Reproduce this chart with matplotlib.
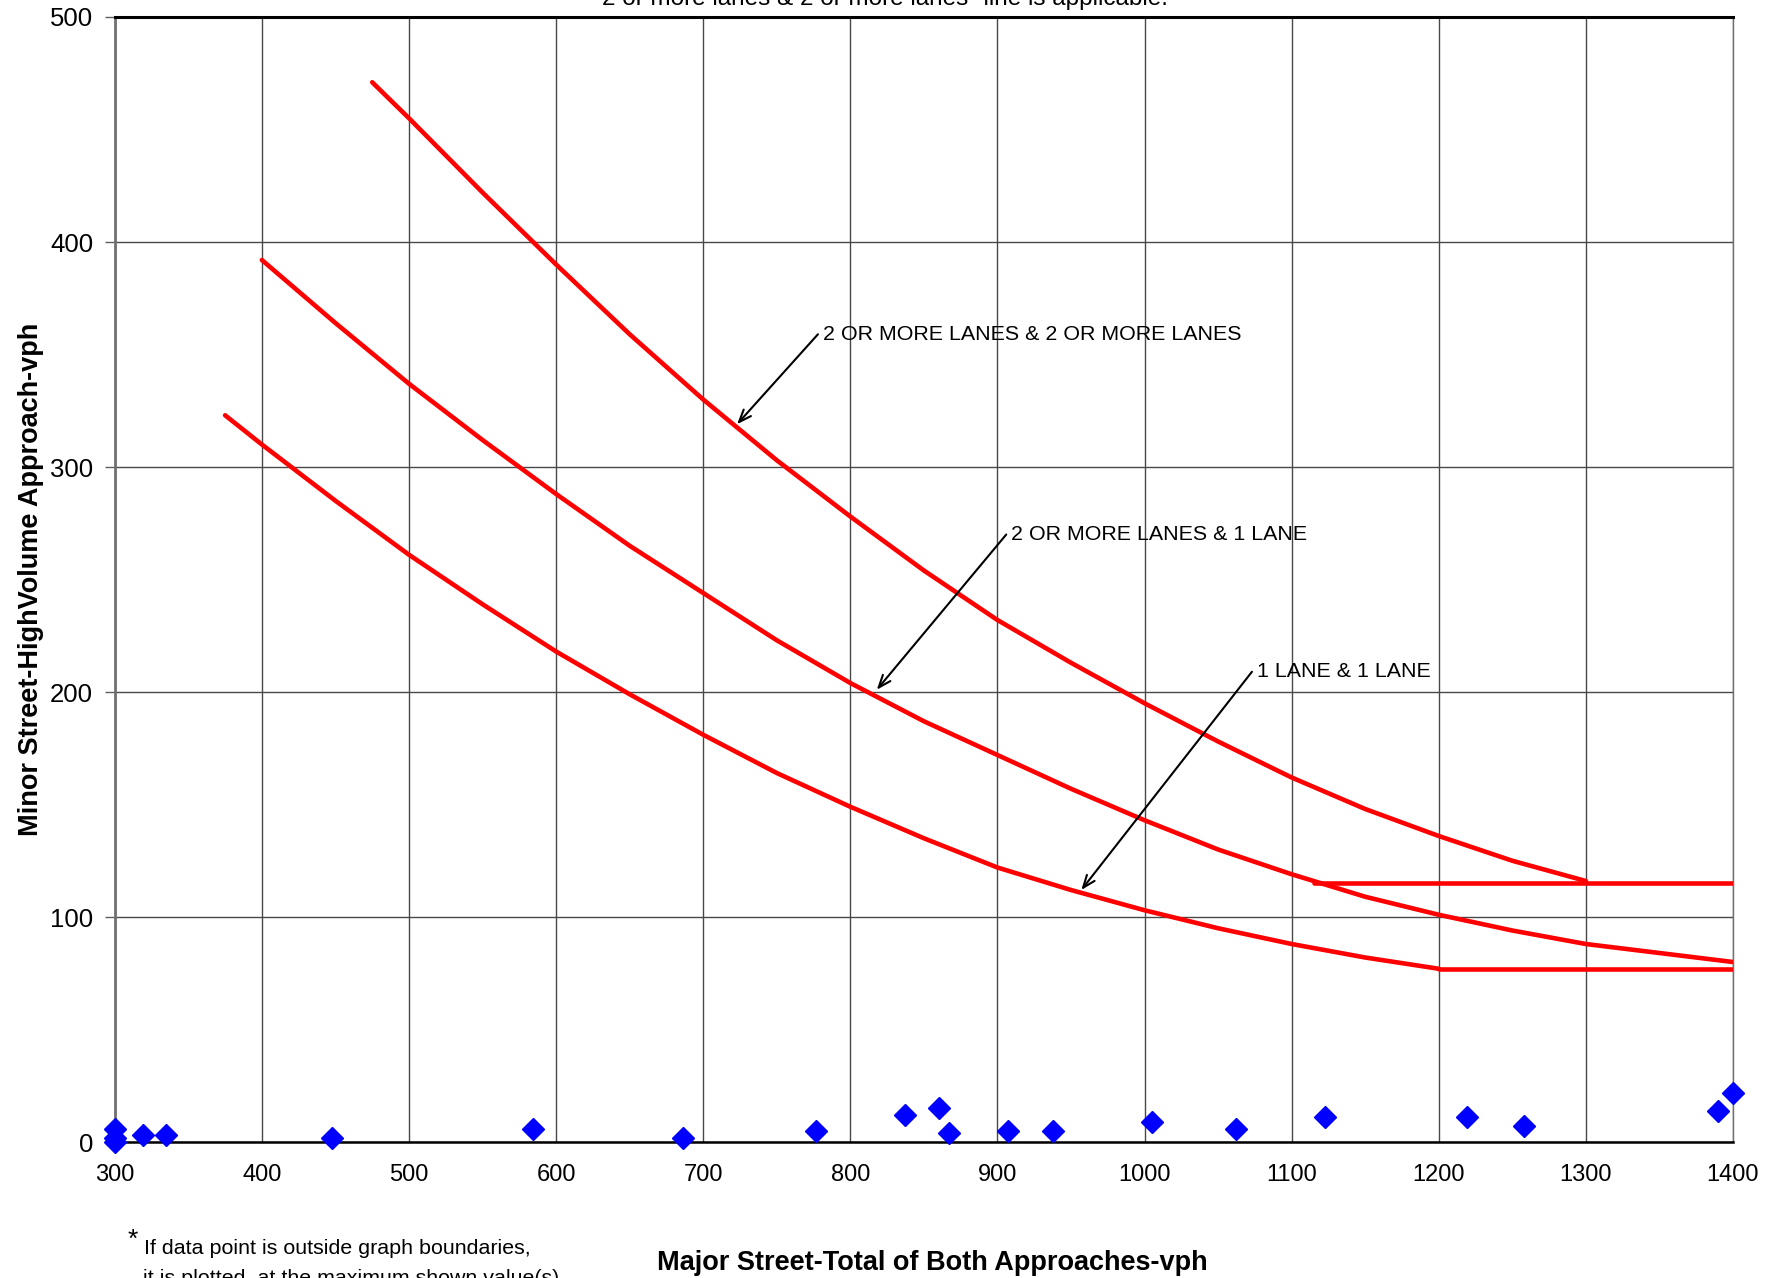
import matplotlib
matplotlib.use("Agg")
import matplotlib.pyplot as plt

plt.rcParams["font.family"] = ["Liberation Sans", "DejaVu Sans"]

# Threshold curves (major street total vph vs. minor street high-volume approach vph)
two_two_x = [475, 500, 550, 600, 650, 700, 750, 800, 850, 900, 950, 1000, 1050,
             1100, 1150, 1200, 1250, 1300]
two_two_y = [471, 455, 422, 390, 359, 330, 303, 278, 254, 232, 213, 195, 178,
             162, 148, 136, 125, 116]

two_one_x = [400, 450, 500, 550, 600, 650, 700, 750, 800, 850, 900, 950, 1000,
             1050, 1100, 1150, 1200, 1250, 1300, 1350, 1400]
two_one_y = [392, 364, 337, 312, 288, 265, 244, 223, 204, 187, 172, 157, 143,
             130, 119, 109, 101, 94, 88, 84, 80]

one_one_x = [375, 400, 450, 500, 550, 600, 650, 700, 750, 800, 850, 900, 950,
             1000, 1050, 1100, 1150, 1200]
one_one_y = [323, 310, 285, 261, 239, 218, 199, 181, 164, 149, 135, 122, 112,
             103, 95, 88, 82, 77]

# Lower threshold floors
floor_two_x = [1115, 1400]
floor_two_y = [115, 115]
floor_one_x = [1200, 1400]
floor_one_y = [77, 77]

# Observed hourly volumes
obs_major = [300, 300, 300, 319, 335, 448, 584, 686, 777, 837, 860, 867, 907, 938,
             1005, 1062, 1123, 1219, 1258, 1390, 1400]
obs_minor = [6, 2, 0, 3, 3, 2, 6, 2, 5, 12, 15, 4, 5, 5,
             9, 6, 11, 11, 7, 14, 22]

x_ticks = list(range(300, 1401, 100))
y_ticks = list(range(0, 501, 100))

curve_labels = ["2 OR MORE LANES & 2 OR MORE LANES",
                "2 OR MORE LANES & 1 LANE",
                "1 LANE & 1 LANE"]
label_tail = [(778, 359), (906, 270), (1073, 209)]
label_head = [(723, 319), (818, 201), (957, 112)]

fig = plt.figure(figsize=(17.82, 12.78), dpi=100)
ax = fig.add_axes([0.0644, 0.1064, 0.9081, 0.8803])

red = "#ff0000"
lw = 3.3
for xs, ys in [(two_two_x, two_two_y), (two_one_x, two_one_y), (one_one_x, one_one_y),
               (floor_two_x, floor_two_y), (floor_one_x, floor_one_y)]:
    ax.plot(xs, ys, color=red, lw=lw, solid_capstyle="round",
            solid_joinstyle="round", zorder=3)

ax.plot(obs_major, obs_minor, linestyle="none", marker="D", markersize=11,
        color="#0000ff", markeredgecolor="#0000ff", clip_on=False, zorder=5)

for text, tail, head in zip(curve_labels, label_tail, label_head):
    ax.annotate("", xy=head, xytext=tail,
                arrowprops=dict(arrowstyle="->,head_length=0.9,head_width=0.35",
                                color="black", lw=1.5, shrinkA=0, shrinkB=0),
                zorder=4)
    ax.text(tail[0] + 3.5, tail[1], text, fontsize=15.4, va="center", ha="left",
            color="black", zorder=4)

ax.set_xlim(300, 1400)
ax.set_ylim(0, 500)
ax.set_xticks(x_ticks)
ax.set_yticks(y_ticks)
ax.tick_params(axis="x", labelsize=17, length=0, pad=16, colors="black")
ax.tick_params(axis="y", labelsize=18.5, length=7, width=1, color="#606060",
               labelcolor="black", pad=8.5, direction="out")
ax.grid(True, color="#484848", lw=1.0)
ax.set_axisbelow(True)

for side in ["top", "bottom"]:
    ax.spines[side].set_color("black")
ax.spines["top"].set_linewidth(2.2)
ax.spines["bottom"].set_linewidth(1.8)
ax.spines["left"].set_color("#707070")
ax.spines["left"].set_linewidth(2.0)
ax.spines["right"].set_color("#707070")
ax.spines["right"].set_linewidth(1.0)

ax.set_ylabel("Minor Street-HighVolume Approach-vph", fontsize=19.5, fontweight="bold")
ax.yaxis.set_label_coords(-0.044, 0.5)
fig.text(932 / 1782, 1 - 1263 / 1278, "Major Street-Total of Both Approaches-vph",
         fontsize=19.5, fontweight="bold", ha="center", va="center")

fig.text(602 / 1782, 1 - 5 / 1278, '2 or more lanes & 2 or more lanes" line is applicable.',
         fontsize=17.5, ha="left", va="baseline")

fig.text(128 / 1782, 1 - 1240 / 1278, "*", fontsize=19, ha="left", va="center")
fig.text(144 / 1782, 1 - 1249 / 1278, "If data point is outside graph boundaries,",
         fontsize=15.4, ha="left", va="center")
fig.text(143 / 1782, 1 - 1279 / 1278, "it is plotted  at the maximum shown value(s).",
         fontsize=15.4, ha="left", va="center")

fig.savefig("out.png", dpi=100)
